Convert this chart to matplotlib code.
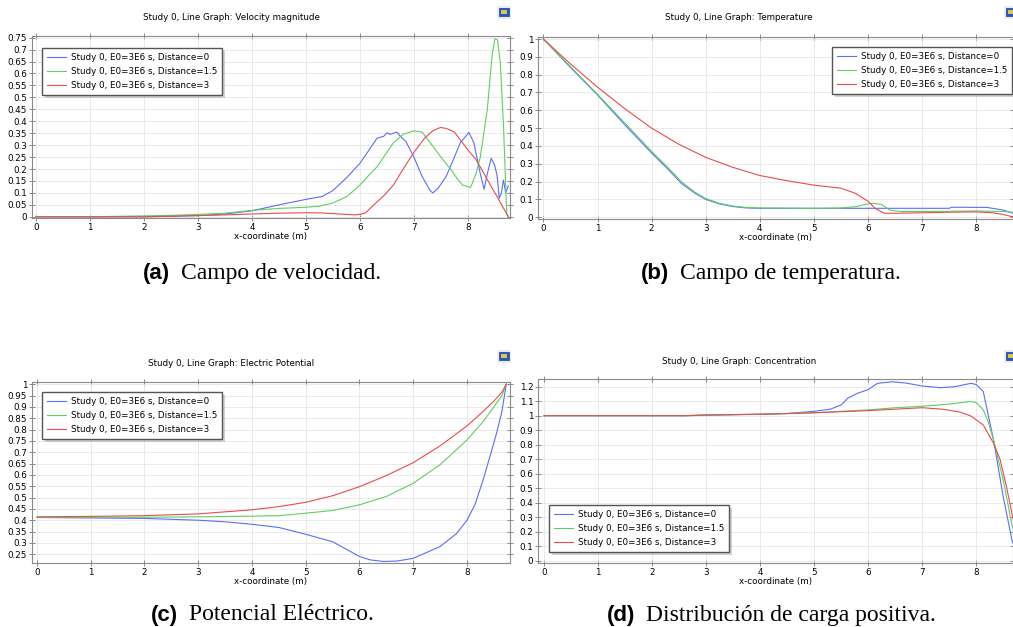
import matplotlib
matplotlib.use('Agg')
import matplotlib.pyplot as plt
from matplotlib.ticker import MultipleLocator
from matplotlib.patches import Rectangle

W, H = 1013, 627

names = ['Study 0, E0=3E6 s, Distance=0',
         'Study 0, E0=3E6 s, Distance=1.5',
         'Study 0, E0=3E6 s, Distance=3']
colors = ['#5b6dff', '#5fcf5f', '#e84c4c']

# (a) velocidad
vel_x0 = [0, 1, 2, 2.5, 3, 3.5, 4, 4.5, 5, 5.3, 5.5, 5.76, 6.0, 6.2, 6.32, 6.44, 6.5, 6.56, 6.62,
          6.68, 6.75, 6.85, 7.0, 7.15, 7.3, 7.35, 7.45, 7.6, 7.75, 7.86, 8.02, 8.11, 8.23, 8.3,
          8.36, 8.43, 8.49, 8.54, 8.58, 8.62, 8.66, 8.7, 8.75]
vel_y0 = [0, 0, 0, 0.002, 0.005, 0.012, 0.025, 0.05, 0.073, 0.085, 0.11, 0.165, 0.224, 0.29, 0.33,
          0.337, 0.352, 0.345, 0.35, 0.355, 0.337, 0.316, 0.25, 0.17, 0.11, 0.1, 0.12, 0.17, 0.25,
          0.31, 0.353, 0.31, 0.18, 0.115, 0.18, 0.245, 0.22, 0.175, 0.077, 0.1, 0.154, 0.1, 0.13]
vel_x1 = [0, 1, 1.5, 2, 2.5, 3, 3.5, 4, 4.5, 5, 5.26, 5.5, 5.76, 6.0, 6.15, 6.32, 6.5, 6.62, 6.8,
          7.0, 7.15, 7.37, 7.5, 7.68, 7.8, 7.9, 8.05, 8.15, 8.23, 8.36, 8.45, 8.5, 8.55, 8.6,
          8.66, 8.72, 8.75]
vel_y1 = [0, 0, 0.002, 0.004, 0.006, 0.01, 0.015, 0.027, 0.035, 0.04, 0.045, 0.058, 0.085, 0.133,
          0.17, 0.21, 0.27, 0.31, 0.345, 0.36, 0.355, 0.29, 0.25, 0.2, 0.16, 0.133, 0.123, 0.18,
          0.25, 0.45, 0.68, 0.746, 0.74, 0.645, 0.38, 0.01, 0.0]
vel_x2 = [0, 1, 2, 3, 3.5, 4, 4.5, 5, 5.3, 5.6, 5.9, 6.0, 6.1, 6.32, 6.45, 6.62, 6.8, 7.0, 7.2,
          7.35, 7.49, 7.6, 7.75, 7.9, 8.0, 8.15, 8.3, 8.45, 8.54, 8.65, 8.75]
vel_y2 = [0, 0, 0, 0.005, 0.008, 0.012, 0.015, 0.017, 0.016, 0.012, 0.008, 0.01, 0.016, 0.063,
          0.09, 0.133, 0.2, 0.27, 0.33, 0.36, 0.374, 0.37, 0.355, 0.31, 0.28, 0.24, 0.18, 0.12,
          0.085, 0.04, 0.0]

# (b) temperatura
tem_x0 = [0, 0.5, 1, 1.5, 2, 2.3, 2.55, 2.8, 3, 3.25, 3.5, 3.75, 4, 5, 6, 7, 7.5, 7.55, 8.2,
          8.3, 8.5, 8.68]
tem_y0 = [1, 0.84, 0.686, 0.52, 0.36, 0.27, 0.19, 0.135, 0.1, 0.075, 0.06, 0.052, 0.05, 0.05,
          0.05, 0.05, 0.05, 0.056, 0.055, 0.05, 0.04, 0.022]
tem_x1 = [0, 0.5, 1, 1.5, 2, 2.3, 2.55, 2.8, 3, 3.25, 3.5, 3.75, 4, 5, 5.5, 5.8, 6.0, 6.1, 6.25,
          6.4, 6.6, 7, 8, 8.5, 8.68]
tem_y1 = [1, 0.845, 0.69, 0.53, 0.37, 0.28, 0.2, 0.14, 0.105, 0.078, 0.063, 0.055, 0.052, 0.05,
          0.052, 0.06, 0.075, 0.078, 0.072, 0.04, 0.032, 0.032, 0.035, 0.032, 0.028]
tem_x2 = [0, 0.5, 1, 1.5, 2, 2.5, 3, 3.5, 4, 4.5, 5, 5.5, 5.76, 6.0, 6.13, 6.3, 6.5, 7, 7.5, 8,
          8.3, 8.5, 8.68]
tem_y2 = [1, 0.86, 0.73, 0.61, 0.5, 0.41, 0.336, 0.28, 0.234, 0.205, 0.18, 0.163, 0.135, 0.09,
          0.05, 0.022, 0.022, 0.025, 0.028, 0.03, 0.025, 0.015, 0.002]

# (c) potencial
pot_x0 = [0, 1, 2, 3, 3.5, 4, 4.5, 5, 5.5, 6.0, 6.2, 6.45, 6.7, 7.0, 7.5, 7.8, 8.0, 8.15, 8.3,
          8.45, 8.55, 8.65, 8.73]
pot_y0 = [0.412, 0.41, 0.408, 0.4, 0.393, 0.382, 0.368, 0.338, 0.305, 0.24, 0.225, 0.218, 0.22,
          0.232, 0.284, 0.34, 0.4, 0.47, 0.578, 0.7, 0.784, 0.88, 1.0]
pot_x1 = [0, 1, 2, 3, 4, 4.5, 5, 5.5, 6, 6.5, 7, 7.5, 8, 8.3, 8.5, 8.65, 8.73]
pot_y1 = [0.413, 0.413, 0.413, 0.415, 0.418, 0.42, 0.431, 0.443, 0.468, 0.505, 0.563, 0.645,
          0.754, 0.835, 0.9, 0.95, 1.0]
pot_x2 = [0, 1, 2, 3, 4, 4.5, 5, 5.5, 6, 6.5, 7, 7.5, 8, 8.3, 8.5, 8.65, 8.73]
pot_y2 = [0.415, 0.417, 0.42, 0.428, 0.446, 0.46, 0.479, 0.508, 0.548, 0.597, 0.654, 0.728,
          0.816, 0.88, 0.925, 0.965, 1.0]

# (d) concentracion
con_x0 = [0, 1, 2, 2.6, 3, 4, 4.5, 5, 5.3, 5.5, 5.62, 5.8, 6.0, 6.17, 6.45, 6.7, 7.0, 7.34, 7.6,
          7.9, 8.0, 8.13, 8.32, 8.5, 8.66, 8.7]
con_y0 = [1, 1, 1, 1, 1.003, 1.01, 1.015, 1.03, 1.045, 1.074, 1.12, 1.154, 1.18, 1.223, 1.234,
          1.225, 1.205, 1.193, 1.2, 1.223, 1.215, 1.166, 0.832, 0.44, 0.143, 0.1]
con_x1 = [0, 1, 2, 2.6, 3, 4, 5, 5.5, 6, 6.5, 7, 7.5, 7.9, 8.0, 8.13, 8.22, 8.32, 8.5, 8.66, 8.7]
con_y1 = [1, 1, 1, 1, 1.005, 1.01, 1.02, 1.03, 1.04, 1.055, 1.065, 1.08, 1.098, 1.09, 1.04, 0.96,
          0.832, 0.556, 0.246, 0.2]
con_x2 = [0, 1, 2, 2.6, 3, 4, 5, 6, 6.5, 7, 7.4, 7.7, 7.9, 8.13, 8.32, 8.44, 8.56, 8.66, 8.7]
con_y2 = [1, 1, 1, 1, 1.005, 1.01, 1.02, 1.035, 1.045, 1.055, 1.044, 1.025, 0.998, 0.936, 0.81,
          0.7, 0.51, 0.326, 0.25]

fig = plt.figure(figsize=(W / 100, H / 100), dpi=100)
fig.patch.set_facecolor('white')


def px_axes(l, t, r, b):
    return fig.add_axes([l / W, 1 - b / H, (r - l) / W, (b - t) / H])


def fmt(v, p):
    return ('%.2f' % v).rstrip('0').rstrip('.')


def panel(ax, series, xlim, ylim, ystep, title, tpos, leg_loc, leg_anchor):
    for (xs, ys), c, n in zip(series, colors, names):
        ax.plot(xs, ys, color=c, lw=0.8, label=n)
    ax.set_xlim(*xlim)
    ax.set_ylim(*ylim)
    ax.xaxis.set_major_locator(MultipleLocator(1))
    ax.yaxis.set_major_locator(MultipleLocator(ystep))
    ax.yaxis.set_major_formatter(plt.FuncFormatter(fmt))
    ax.grid(True, color='#e6e6e6', lw=0.6)
    ax.set_axisbelow(True)
    ax.tick_params(direction='inout', length=4, width=0.6, color='#777777', labelsize=6.3,
                   pad=1.5, top=True, right=True)
    for s in ax.spines.values():
        s.set_color('#8a8a8a')
        s.set_linewidth(0.8)
    ax.set_xlabel('x-coordinate (m)', fontsize=6.3, labelpad=0)
    fig.text(tpos[0] / W, 1 - tpos[1] / H, title, fontsize=6.3, ha='center', va='center')
    ax.legend(loc=leg_loc, bbox_to_anchor=leg_anchor, fontsize=6.3, fancybox=False,
              shadow={'facecolor': '#9a9a9a', 'edgecolor': 'none', 'alpha': 0.45},
              edgecolor='#555555', framealpha=1, borderaxespad=0, handlelength=2.2,
              handletextpad=0.55, labelspacing=0.6, borderpad=0.55)


ax1 = px_axes(32, 36, 510, 218)
panel(ax1, [(vel_x0, vel_y0), (vel_x1, vel_y1), (vel_x2, vel_y2)], (-0.074, 8.78), (-0.005, 0.757),
      0.05, 'Study 0, Line Graph: Velocity magnitude', (231, 18), 'upper left', (0.021, 0.934))

ax2 = px_axes(538, 36.7, 1013, 219)
panel(ax2, [(tem_x0, tem_y0), (tem_x1, tem_y1), (tem_x2, tem_y2)], (-0.1, 8.68), (-0.01, 1.013),
      0.1, 'Study 0, Line Graph: Temperature', (739, 17), 'upper right', (0.998, 0.943))

ax3 = px_axes(32, 381.7, 510, 563.3)
panel(ax3, [(pot_x0, pot_y0), (pot_x1, pot_y1), (pot_x2, pot_y2)], (-0.093, 8.8), (0.21, 1.011),
      0.05, 'Study 0, Line Graph: Electric Potential', (231, 363), 'upper left', (0.021, 0.943))

ax4 = px_axes(538.3, 379.3, 1013, 563.3)
panel(ax4, [(con_x0, con_y0), (con_x1, con_y1), (con_x2, con_y2)], (-0.105, 8.68), (-0.018, 1.251),
      0.1, 'Study 0, Line Graph: Concentration', (739, 361), 'lower left', (0.0225, 0.061))

# iconos de la ventana
for ix, iy in [(499, 8), (1006, 8), (499, 352), (1006, 352)]:
    fig.add_artist(Rectangle(((ix - 2) / W, 1 - (iy + 11) / H), 14 / W, 13 / H,
                             fc='#ececec', ec='none', transform=fig.transFigure))
    fig.add_artist(Rectangle((ix / W, 1 - (iy + 8) / H), 10 / W, 8 / H,
                             fc='#2456c8', ec='#1a3f99', lw=0.5, transform=fig.transFigure))
    fig.add_artist(Rectangle(((ix + 2) / W, 1 - (iy + 6) / H), 6 / W, 4 / H,
                             fc='#d8c94a', ec='none', transform=fig.transFigure))

# pies de figura, centrados bajo cada columna
caps = [('(a)', 'Campo de velocidad.', 262, 279.5),
        ('(b)', 'Campo de temperatura.', 771, 279.5),
        ('(c)', 'Potencial Eléctrico.', 262, 620.5),
        ('(d)', 'Distribución de carga positiva.', 771, 620.5)]
renderer = fig.canvas.get_renderer()
for lab, txt, cx, cy in caps:
    t1 = fig.text(0, 1 - cy / H, lab, fontsize=16, fontweight='bold',
                  family=['Liberation Sans Narrow', 'Liberation Sans'], ha='left', va='baseline')
    t2 = fig.text(0, 1 - cy / H, txt, fontsize=17, family='Liberation Serif',
                  ha='left', va='baseline')
    w1 = t1.get_window_extent(renderer).width
    w2 = t2.get_window_extent(renderer).width
    x0 = cx - (w1 + 11 + w2) / 2
    t1.set_x(x0 / W)
    t2.set_x((x0 + w1 + 11) / W)

fig.savefig('out.png', dpi=100)
